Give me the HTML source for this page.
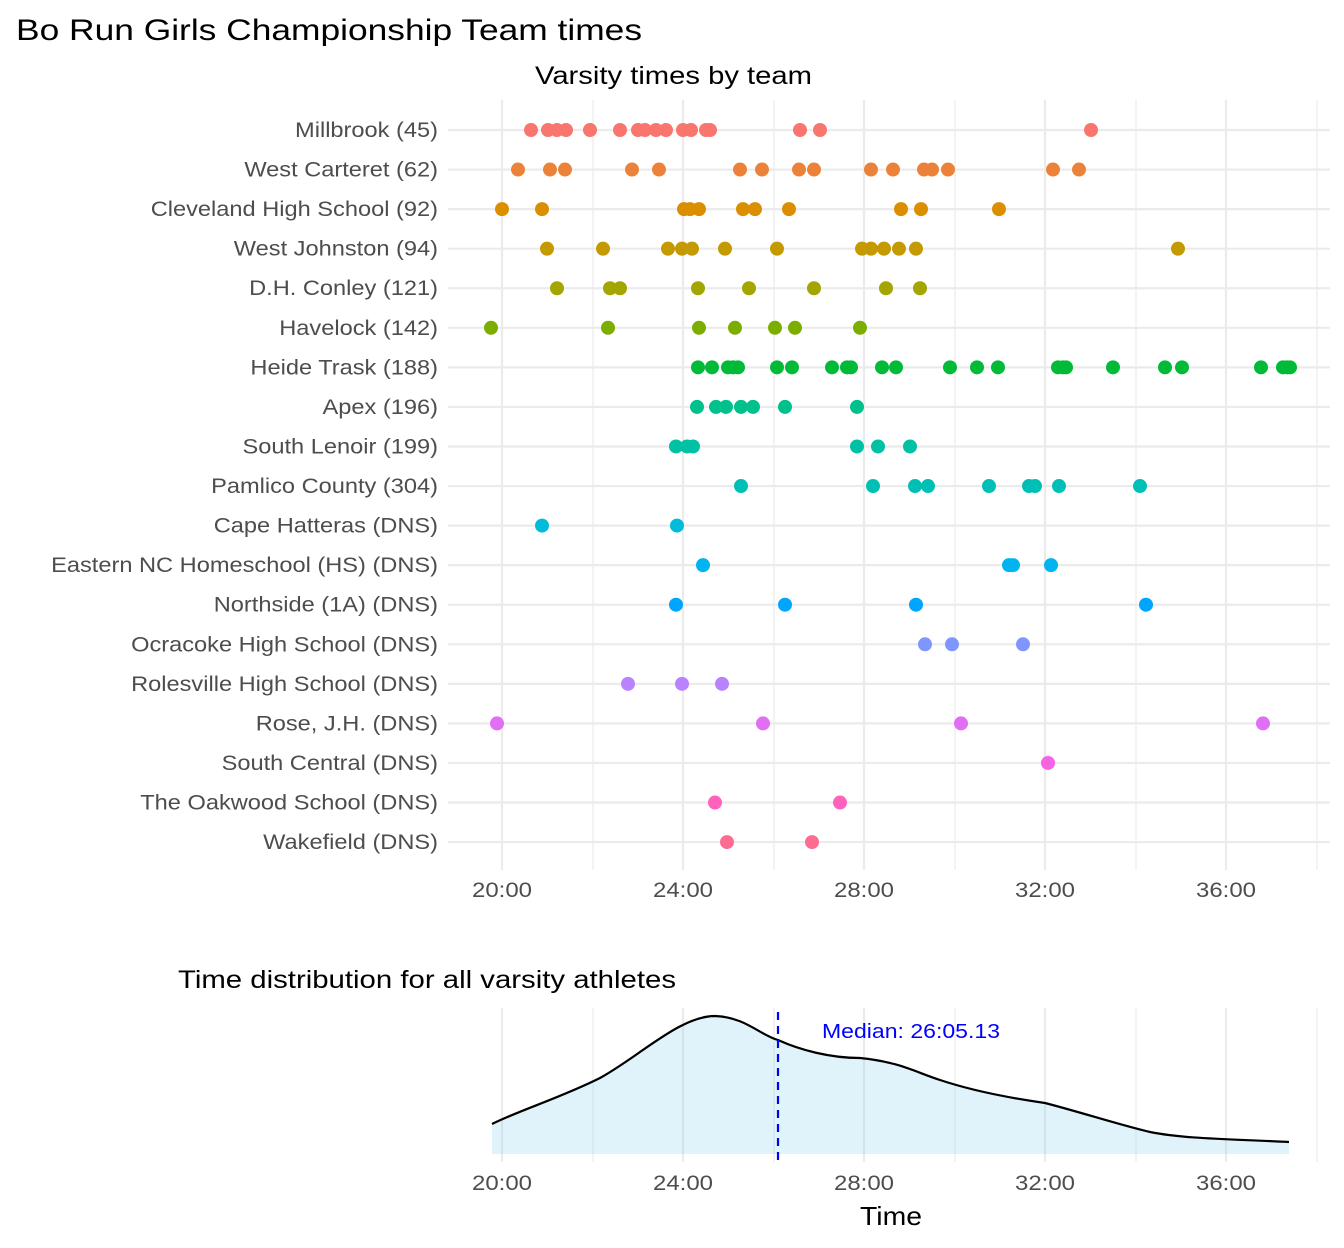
<!DOCTYPE html>
<html><head><meta charset="utf-8"><style>body{margin:0;background:#fff}svg{display:block;font-family:"Liberation Sans",Arial,sans-serif}</style></head><body>
<svg width="1344" height="1248" viewBox="0 0 1344 1248" xmlns="http://www.w3.org/2000/svg">
<rect width="1344" height="1248" fill="#fff"/>
<text x="16" y="40" font-size="30" fill="#000" textLength="626" lengthAdjust="spacingAndGlyphs">Bo Run Girls Championship Team times</text>
<text x="535" y="84" font-size="25" fill="#000" textLength="277" lengthAdjust="spacingAndGlyphs">Varsity times by team</text>
<g stroke="#ebebeb" stroke-width="1.2">
<line x1="593" y1="100" x2="593" y2="870"/><line x1="774" y1="100" x2="774" y2="870"/><line x1="955" y1="100" x2="955" y2="870"/><line x1="1136" y1="100" x2="1136" y2="870"/><line x1="1317" y1="100" x2="1317" y2="870"/>
</g>
<g stroke="#ebebeb" stroke-width="2.2">
<line x1="502" y1="100" x2="502" y2="870"/><line x1="683" y1="100" x2="683" y2="870"/><line x1="864" y1="100" x2="864" y2="870"/><line x1="1045" y1="100" x2="1045" y2="870"/><line x1="1226" y1="100" x2="1226" y2="870"/>
<g id="hl"></g>
</g>
<g id="rows"></g>
<g font-size="21" fill="#4d4d4d">
<text x="472" y="897" textLength="60" lengthAdjust="spacingAndGlyphs">20:00</text><text x="653" y="897" textLength="60" lengthAdjust="spacingAndGlyphs">24:00</text><text x="834" y="897" textLength="60" lengthAdjust="spacingAndGlyphs">28:00</text><text x="1015" y="897" textLength="60" lengthAdjust="spacingAndGlyphs">32:00</text><text x="1196" y="897" textLength="60" lengthAdjust="spacingAndGlyphs">36:00</text>
</g>
<text x="178" y="988" font-size="25" fill="#000" textLength="498" lengthAdjust="spacingAndGlyphs">Time distribution for all varsity athletes</text>
<g stroke="#ebebeb" stroke-width="1.2">
<line x1="593" y1="1008" x2="593" y2="1162"/><line x1="774" y1="1008" x2="774" y2="1162"/><line x1="955" y1="1008" x2="955" y2="1162"/><line x1="1136" y1="1008" x2="1136" y2="1162"/><line x1="1317" y1="1008" x2="1317" y2="1162"/>
</g>
<g stroke="#ebebeb" stroke-width="2.2">
<line x1="502" y1="1008" x2="502" y2="1162"/><line x1="683" y1="1008" x2="683" y2="1162"/><line x1="864" y1="1008" x2="864" y2="1162"/><line x1="1045" y1="1008" x2="1045" y2="1162"/><line x1="1226" y1="1008" x2="1226" y2="1162"/>
</g>
<path d="M492,1124 C520,1110 560,1098 600,1078 C640,1056 680,1016 715,1016 C745,1017 760,1035 778,1040 C800,1050 830,1058 860,1058 C900,1062 915,1072 940,1080 C970,1090 1010,1098 1045,1103 C1080,1112 1120,1125 1150,1132 C1185,1139 1230,1139 1289,1142 L1289,1154 L492,1154 Z" fill="#87ceeb" fill-opacity="0.25" stroke="none"/>
<path d="M492,1124 C520,1110 560,1098 600,1078 C640,1056 680,1016 715,1016 C745,1017 760,1035 778,1040 C800,1050 830,1058 860,1058 C900,1062 915,1072 940,1080 C970,1090 1010,1098 1045,1103 C1080,1112 1120,1125 1150,1132 C1185,1139 1230,1139 1289,1142" fill="none" stroke="#000" stroke-width="2.2"/>
<line x1="778" y1="1012" x2="778" y2="1160" stroke="#0000ff" stroke-width="2.2" stroke-dasharray="8,6"/>
<text x="822" y="1038" font-size="20" fill="#0000ff" textLength="178" lengthAdjust="spacingAndGlyphs">Median: 26:05.13</text>
<g font-size="21" fill="#4d4d4d">
<text x="472" y="1190" textLength="60" lengthAdjust="spacingAndGlyphs">20:00</text><text x="653" y="1190" textLength="60" lengthAdjust="spacingAndGlyphs">24:00</text><text x="834" y="1190" textLength="60" lengthAdjust="spacingAndGlyphs">28:00</text><text x="1015" y="1190" textLength="60" lengthAdjust="spacingAndGlyphs">32:00</text><text x="1196" y="1190" textLength="60" lengthAdjust="spacingAndGlyphs">36:00</text>
</g>
<text x="860" y="1225" font-size="26" fill="#000" textLength="62" lengthAdjust="spacingAndGlyphs">Time</text>
<script>
var rows=[
["Millbrook (45)","#F8766D",[531,548,557,566,590,620,638,645,656,666,683,691,706,710,800,820,1091]],
["West Carteret (62)","#EC8239",[518,550,565,632,659,740,762,799,814,871,893,924,932,948,1053,1079]],
["Cleveland High School (92)","#DB8E00",[502,542,684,690,699,743,755,789,901,921,999]],
["West Johnston (94)","#C49A00",[547,603,668,682,692,725,777,862,871,884,899,916,1178]],
["D.H. Conley (121)","#A3A500",[557,610,620,698,749,814,886,920]],
["Havelock (142)","#7CAE00",[491,608,699,735,775,795,860]],
["Heide Trask (188)","#00BA38",[698,712,728,733,738,777,792,832,847,851,882,896,950,977,998,1058,1063,1066,1113,1165,1182,1261,1283,1287,1290]],
["Apex (196)","#00C08B",[697,716,726,741,753,785,857]],
["South Lenoir (199)","#00C1A3",[676,687,693,857,878,910]],
["Pamlico County (304)","#00BFB5",[741,873,915,928,989,1029,1035,1059,1140]],
["Cape Hatteras (DNS)","#00BCD8",[542,677]],
["Eastern NC Homeschool (HS) (DNS)","#00B4EF",[703,1009,1013,1051]],
["Northside (1A) (DNS)","#00A5FF",[676,785,916,1146]],
["Ocracoke High School (DNS)","#7F96FF",[925,952,1023]],
["Rolesville High School (DNS)","#B983FF",[628,682,722]],
["Rose, J.H. (DNS)","#E16FF5",[497,763,961,1263]],
["South Central (DNS)","#F564E3",[1048]],
["The Oakwood School (DNS)","#FF62BC",[715,840]],
["Wakefield (DNS)","#FF6C91",[727,812]]];
var ns="http://www.w3.org/2000/svg",g=document.getElementById("rows"),hl=document.getElementById("hl");
rows.forEach(function(r,i){var y=130+i*39.56;
var l=document.createElementNS(ns,"line");l.setAttribute("x1",448);l.setAttribute("x2",1330);l.setAttribute("y1",y);l.setAttribute("y2",y);hl.appendChild(l);
var t=document.createElementNS(ns,"text");t.setAttribute("y",y+7);t.setAttribute("font-size","21");t.setAttribute("fill","#4d4d4d");t.textContent=r[0];g.appendChild(t);
var w=t.getComputedTextLength()*20/21*1.18;t.setAttribute("textLength",w);t.setAttribute("lengthAdjust","spacingAndGlyphs");t.setAttribute("x",438-w);
r[2].forEach(function(x){var c=document.createElementNS(ns,"circle");c.setAttribute("cx",x);c.setAttribute("cy",y);c.setAttribute("r",7);c.setAttribute("fill",r[1]);g.appendChild(c);});});
</script>
</svg>
</body></html>
